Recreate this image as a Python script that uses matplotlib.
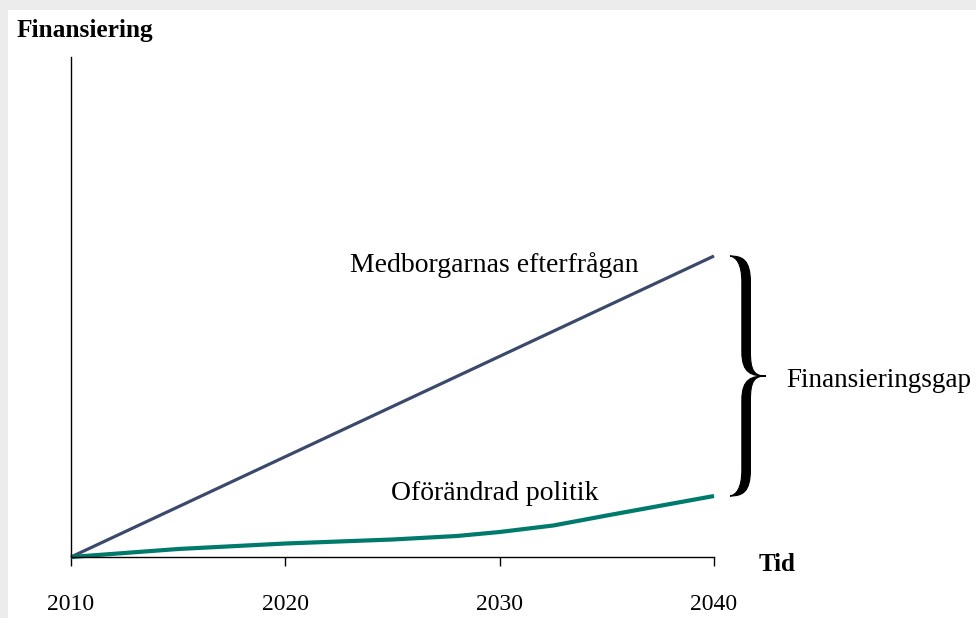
import matplotlib
matplotlib.use("Agg")
import matplotlib.pyplot as plt
from matplotlib.patches import Rectangle, PathPatch
from matplotlib.path import Path

plt.rcParams['font.family'] = ['Liberation Serif', 'DejaVu Serif']

# data
demand_years = [2010, 2040]
demand = [0, 60.2]
policy_years = [2010, 2015, 2020, 2025, 2028, 2030, 2032.5, 2035, 2040]
policy = [0, 1.6, 2.7, 3.5, 4.2, 5.0, 6.3, 8.3, 12.2]
xticks = [2010, 2020, 2030, 2040]

navy = "#3b4a6b"
teal = "#007a6c"

fig = plt.figure(figsize=(9.76, 6.18), dpi=100)
fig.patches.append(Rectangle((0, 1 - 10 / 618), 1, 10 / 618, transform=fig.transFigure,
                             facecolor="#ececec", edgecolor="none", zorder=0))
fig.patches.append(Rectangle((0, 0), 8 / 976, 1, transform=fig.transFigure,
                             facecolor="#ececec", edgecolor="none", zorder=0))

ax = fig.add_axes([71 / 976, 61 / 618, 643 / 976, 500 / 618])
ax.set_xlim(2010, 2040)
ax.set_ylim(0, 100)
ax.patch.set_alpha(0)

ax.plot(demand_years, demand, color=navy, lw=2.3, solid_capstyle="butt", clip_on=False)
ax.plot(policy_years, policy, color=teal, lw=3.0, solid_capstyle="butt", clip_on=False)

for s in ["top", "right"]:
    ax.spines[s].set_visible(False)
ax.spines["left"].set_linewidth(1.0)
ax.spines["bottom"].set_linewidth(1.0)
ax.set_yticks([])
ax.set_xticks(xticks)
ax.set_xticklabels([str(t) for t in xticks])
ax.tick_params(axis="x", direction="out", length=6.5, width=1.0, pad=20, labelsize=17)

ax.text(2029.75, 57, "Medborgarnas efterfrågan", ha="center", va="baseline", fontsize=20)
ax.text(2029.75, 11.4, "Oförändrad politik", ha="center", va="baseline", fontsize=20)
ax.text(2043.37, 34, "Finansieringsgap", ha="left", va="baseline", fontsize=19.5, clip_on=False)
ax.text(2042.06, -2.8, "Tid", ha="left", va="baseline", fontsize=18, fontweight="bold", clip_on=False)
ax.text(2007.48, 104, "Finansiering", ha="left", va="baseline", fontsize=18.3, fontweight="bold",
        clip_on=False)

# curly brace spanning the gap
top, bot = demand[-1], policy[-1]
mid = (top + bot) / 2
h = top - mid
x0, xs, x1, d = 2040.75, 2041.5, 2042.4, 0.2
verts = [
    (x0, top),
    (x0 + 0.6 * (xs + d - x0), top), (xs + d, top - 0.03 * h), (xs + d, top - 0.22 * h),
    (xs + d, mid + 0.2 * h),
    (xs + d, mid + 0.05 * h), (xs + 0.4 * (x1 - xs), mid), (x1, mid),
    (xs + 0.4 * (x1 - xs), mid), (xs + d, mid - 0.05 * h), (xs + d, mid - 0.2 * h),
    (xs + d, bot + 0.22 * h),
    (xs + d, bot + 0.03 * h), (x0 + 0.6 * (xs + d - x0), bot), (x0, bot),
    (x0 + 0.5 * (xs - d - x0), bot + 0.01 * h), (xs - d, bot + 0.06 * h), (xs - d, bot + 0.22 * h),
    (xs - d, mid - 0.2 * h),
    (xs - d, mid - 0.02 * h), (xs + 0.3 * (x1 - xs), mid), (x1, mid),
    (xs + 0.3 * (x1 - xs), mid), (xs - d, mid + 0.02 * h), (xs - d, mid + 0.2 * h),
    (xs - d, top - 0.22 * h),
    (xs - d, top - 0.06 * h), (x0 + 0.5 * (xs - d - x0), top - 0.01 * h), (x0, top),
]
codes = [Path.MOVETO,
         Path.CURVE4, Path.CURVE4, Path.CURVE4,
         Path.LINETO,
         Path.CURVE4, Path.CURVE4, Path.CURVE4,
         Path.CURVE4, Path.CURVE4, Path.CURVE4,
         Path.LINETO,
         Path.CURVE4, Path.CURVE4, Path.CURVE4,
         Path.CURVE4, Path.CURVE4, Path.CURVE4,
         Path.LINETO,
         Path.CURVE4, Path.CURVE4, Path.CURVE4,
         Path.CURVE4, Path.CURVE4, Path.CURVE4,
         Path.LINETO,
         Path.CURVE4, Path.CURVE4, Path.CURVE4]
ax.add_patch(PathPatch(Path(verts, codes), facecolor="black", edgecolor="black", lw=0.8,
                       clip_on=False))

fig.savefig("out.png", dpi=100)
